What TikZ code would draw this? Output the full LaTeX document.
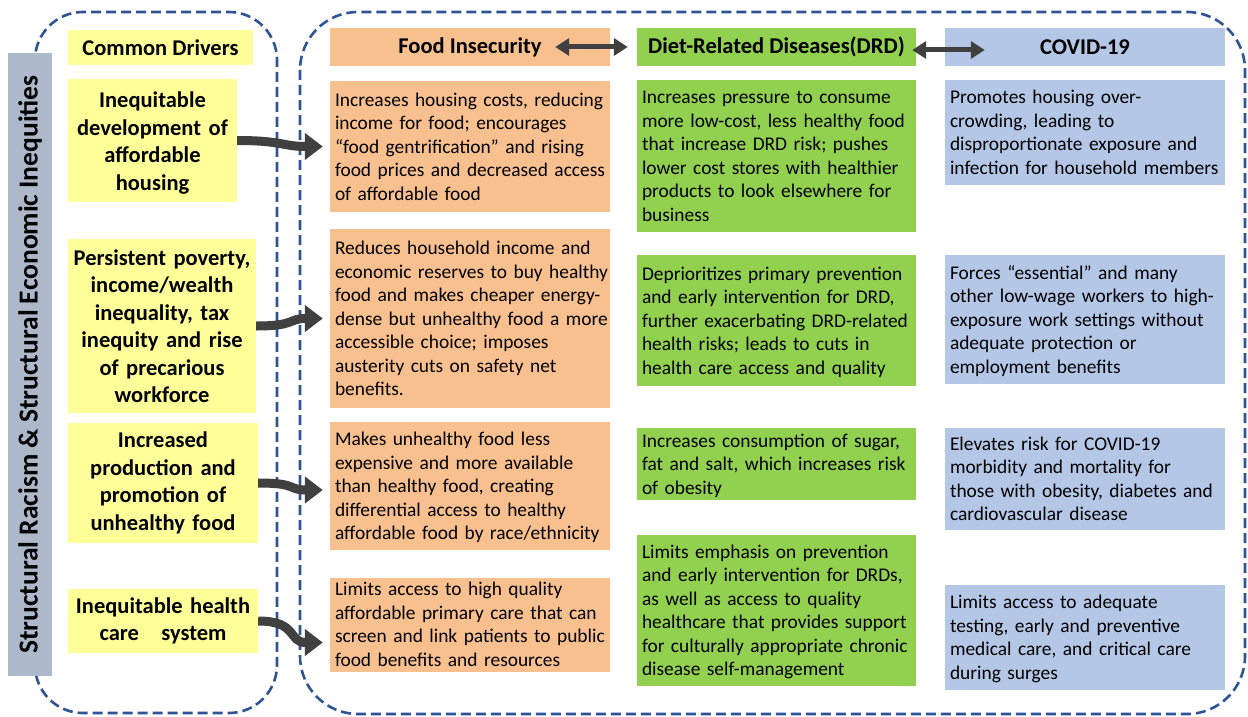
\documentclass[tikz,border=0pt]{standalone}
\usepackage{fontspec}
\setmainfont{Carlito}
\usetikzlibrary{arrows.meta,calc}
\definecolor{ylw}{RGB}{255,255,153}
\definecolor{org}{RGB}{249,192,143}
\definecolor{grn}{RGB}{146,208,80}
\definecolor{blu}{RGB}{180,199,231}
\definecolor{barc}{RGB}{173,185,202}
\definecolor{dashc}{RGB}{47,84,150}
\definecolor{arrc}{RGB}{64,64,64}
\newcommand\mylines[1]{\raisebox{-2pt}[\height][\depth]{\begin{tabular}{@{}l@{}}#1\end{tabular}}}
\newcommand\mylower[1]{\raisebox{-3pt}[\height][\depth]{\begin{tabular}{@{}c@{}}#1\end{tabular}}}
\begin{document}
\begin{tikzpicture}[x=1pt,y=-1pt,
  dashline/.style={draw=dashc,line width=2.6pt,dash pattern=on 10pt off 5pt},
  bodybox/.style={rectangle,inner xsep=5pt,inner ysep=0pt,align=left,font=\fontsize{19.4}{23.5}\selectfont},
  obox/.style={bodybox,fill=org,text width=270pt},
  gbox/.style={bodybox,fill=grn,text width=269pt},
  bbox/.style={bodybox,fill=blu,text width=270pt},
  ybox/.style={rectangle,fill=ylw,inner xsep=3pt,inner ysep=2pt,align=center,font=\fontsize{22.5}{27.5}\selectfont\bfseries},
  hbox/.style={rectangle,inner sep=0pt,align=center,font=\fontsize{22.5}{26}\selectfont\bfseries,minimum height=38pt},
  bigarrow/.style={draw=arrc,line width=9pt,-{Triangle[length=18pt,width=26pt]}},
  dblarrow/.style={draw=arrc,line width=5pt,{Triangle[length=14pt,width=17pt]}-{Triangle[length=14pt,width=17pt]}}
]
\useasboundingbox (0,0) rectangle (1248,717);
\fill[white] (0,0) rectangle (1248,717);

% dashed frames
\draw[dashline,rounded corners=48pt] (35,12) rectangle (277,713);
\draw[dashline,rounded corners=58pt] (300,12) rectangle (1245,714);

% side bar
\node[rectangle,fill=barc,minimum width=623pt,minimum height=44pt,inner sep=0pt,rotate=90,
      font=\fontsize{27.5}{30}\selectfont\bfseries] (bar) at (30,364.5)
      {Structural Racism \& Structural Economic Inequities};

% headers
\node[hbox,fill=ylw,minimum width=185pt,minimum height=35pt] (yh) at (160.5,47.5) {Common Drivers};
\node[hbox,fill=org,minimum width=280pt] (oh) at (470,47) {Food Insecurity};
\node[hbox,fill=grn,minimum width=279pt] (gh) at (776.5,47) {Diet-Related Diseases(DRD)};
\node[hbox,fill=blu,minimum width=280pt] (bh) at (1085,47) {COVID-19};

% common drivers
\node[ybox,text width=163pt,minimum height=123pt] (y1) at (152.5,140.5)
  {\mylower{Inequitable\\development of\\affordable\\housing}};
\node[ybox,text width=182pt,minimum height=174pt] (y2) at (162,326)
  {Persistent poverty,\\income/wealth\\inequality, tax\\inequity and rise\\of precarious\\workforce};
\node[ybox,text width=184pt,minimum height=120pt] (y3) at (163,483)
  {Increased\\production and\\promotion of\\unhealthy food};
\node[ybox,text width=184pt,minimum height=64pt] (y4) at (163,621)
  {Inequitable health\\care\ \ \ system};

% food insecurity
\node[obox,minimum height=131pt] (o1) at (470,146.5)
  {\mylines{Increases housing costs, reducing\\income for food; encourages\\“food gentrification” and rising\\food prices and decreased access\\of affordable food}};
\node[obox,minimum height=179pt] (o2) at (470,318.5)
  {\mylines{Reduces household income and\\economic reserves to buy healthy\\food and makes cheaper energy-\\dense but unhealthy food a more\\accessible choice; imposes\\austerity cuts on safety net\\benefits.}};
\node[obox,minimum height=128pt] (o3) at (470,486)
  {\mylines{Makes unhealthy food less\\expensive and more available\\than healthy food, creating\\differential access to healthy\\affordable food by race/ethnicity}};
\node[obox,minimum height=79pt] (o4) at (470,624.5)
  {\mylines{Limits access to high quality\\affordable primary care that can\\screen and link patients to public\\food benefits and resources}};

% diet-related diseases
\node[gbox,minimum height=152pt] (g1) at (776.5,156)
  {\mylines{Increases pressure to consume\\more low-cost, less healthy food\\that increase DRD risk; pushes\\lower cost stores with healthier\\products to look elsewhere for\\business}};
\node[gbox,minimum height=131pt] (g2) at (776.5,320.5)
  {\mylines{Deprioritizes primary prevention\\and early intervention for DRD,\\further exacerbating DRD-related\\health risks; leads to cuts in\\health care access and quality}};
\node[gbox,minimum height=72pt] (g3) at (776.5,464)
  {\mylines{Increases consumption of sugar,\\fat and salt, which increases risk\\of obesity}};
\node[gbox,minimum height=151pt] (g4) at (776.5,610.5)
  {\mylines{Limits emphasis on prevention\\and early intervention for DRDs,\\as well as access to quality\\healthcare that provides support\\for culturally appropriate chronic\\disease self-management}};

% covid-19
\node[bbox,minimum height=105pt] (b1) at (1085,132.5)
  {\mylines{Promotes housing over-\\crowding, leading to\\disproportionate exposure and\\infection for household members}};
\node[bbox,minimum height=129pt] (b2) at (1085,319.5)
  {\mylines{Forces “essential” and many\\other low-wage workers to high-\\exposure work settings without\\adequate protection or\\employment benefits}};
\node[bbox,minimum height=102pt] (b3) at (1085,479)
  {\mylines{Elevates risk for COVID-19\\morbidity and mortality for\\those with obesity, diabetes and\\cardiovascular disease}};
\node[bbox,minimum height=105pt] (b4) at (1085,637.5)
  {\mylines{Limits access to adequate\\testing, early and preventive\\medical care, and critical care\\during surges}};

% header double arrows
\draw[dblarrow] ($(oh.east)+(-55,0)$) -- ($(gh.west)+(-9,0)$);
\draw[dblarrow] ($(gh.east)+(-4,3)$) -- ($(bh.west)+(40,3)$);

% driver arrows
\draw[bigarrow] (y1.east) .. controls +(45,0) and +(-40,0) .. ($(o1.west)+(-7,0)$);
\draw[bigarrow] (y2.east) .. controls +(40,0) and +(-35,0) .. ($(o2.west)+(-7,0)$);
\draw[bigarrow] (y3.east) .. controls +(40,0) and +(-35,0) .. ($(o3.west)+(-7,4)$);
\draw[bigarrow] (y4.east) .. controls +(40,0) and +(-35,0) .. ($(o4.west)+(-7,18)$);
\end{tikzpicture}
\end{document}
